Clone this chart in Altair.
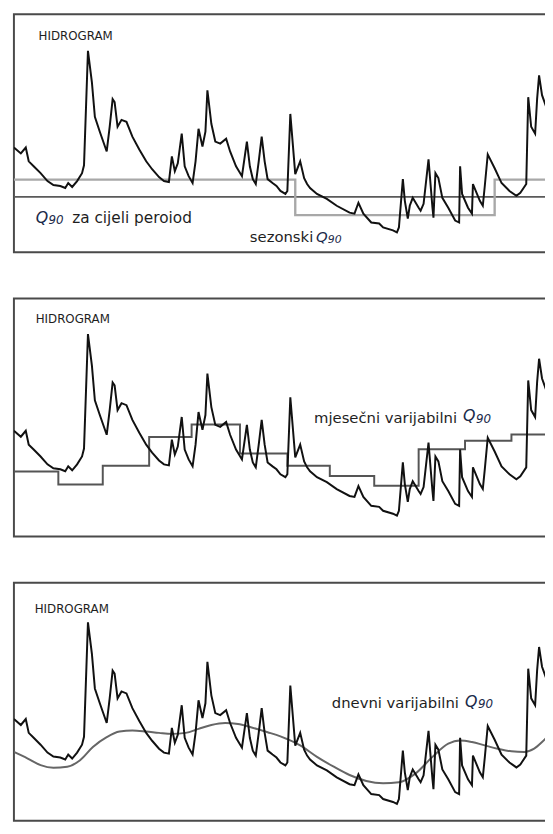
import altair as alt
import pandas as pd

days = [0, 7, 12, 15, 20, 27, 34, 40, 47, 52, 55, 59, 64, 69, 71, 75, 79, 82, 87, 94,
        97, 100, 102, 105, 109, 114, 120, 127, 134, 140, 147, 152, 157, 160, 163, 166, 170, 173, 177, 181,
        184, 187, 191, 194, 196, 200, 204, 209, 215, 219, 225, 231, 236, 239, 242, 245, 248, 251, 254, 257,
        262, 266, 270, 275, 277, 280, 285, 290, 294, 297, 300, 307, 317, 327, 340, 345, 349, 354, 362, 370,
        374, 384, 388, 390, 394, 396, 399, 401, 404, 410, 412, 415, 420, 424, 425, 427, 430, 434, 440, 447,
        451, 452, 454, 460, 464, 465, 472, 475, 477, 480, 487, 494, 502, 509, 513, 519, 521, 524, 528, 530,
        532, 535, 540]
flow = [106, 100, 106, 92, 87, 80, 72, 68, 67, 65, 70, 66, 72, 80, 88, 204, 172, 137, 122, 102,
        127, 155, 152, 127, 134, 132, 117, 104, 92, 84, 76, 72, 71, 97, 82, 90, 120, 87, 77, 70,
        92, 125, 107, 122, 164, 130, 112, 110, 115, 102, 87, 77, 112, 87, 74, 69, 92, 117, 92, 74,
        70, 67, 62, 59, 62, 140, 79, 92, 75, 69, 65, 59, 54, 47, 40, 39, 50, 39, 30, 29,
        25, 22, 20, 25, 74, 52, 34, 47, 55, 45, 42, 49, 94, 45, 35, 80, 75, 55, 45, 32,
        30, 87, 59, 45, 39, 69, 52, 47, 67, 99, 85, 70, 62, 57, 60, 69, 157, 127, 120, 155,
        179, 159, 145]
assert len(days) == len(flow)

q90_all = 56
season_days = [0, 285, 487, 540]
season_q = [73.5, 37.5, 73.5, 73.5]
month_days = [0, 45, 90, 137, 180, 229, 277, 320, 365, 410, 457, 504, 540]
month_q = [64.7, 51.7, 70.7, 99.7, 112.3, 83, 70.5, 60.2, 50.3, 87.3, 96, 102.3, 102.3]
daily_days = [0, 14, 27, 40, 54, 67, 80, 94, 107, 120, 134, 147, 160, 174, 187, 200, 214, 227, 240,
              257, 270, 290, 307, 324, 340, 357, 374, 390, 407, 424, 440, 452, 464, 477, 490, 504, 517,
              527, 535, 540]
daily_q = [72.7, 66, 59.3, 56.7, 57.7, 64.3, 77.7, 87.7, 93.3, 94.3, 93.3, 92, 91, 92, 96, 100, 102,
           101, 97.7, 92.7, 88.5, 79.3, 67.7, 57.7, 49.3, 43.3, 41, 42, 51, 67.7, 81, 84.3, 82.7, 79.3,
           76, 73.3, 72.7, 76, 82.7, 87.7]

hydro = pd.DataFrame({"d": days, "q": flow})
season = pd.DataFrame({"d": season_days, "q": season_q})
month = pd.DataFrame({"d": month_days, "q": month_q})
daily = pd.DataFrame({"d": daily_days, "q": daily_q})
whole = pd.DataFrame({"d": [0, 540], "q": [q90_all, q90_all]})

W, H = 541, 241
FONT = "DejaVu Sans"
TXT = "#1e1e1e"
QCOL = "#1b2a4a"


def panel(ymin, refs, texts):
    xsc = alt.Scale(domain=[0, 541], nice=False, zero=False)
    ysc = alt.Scale(domain=[ymin, ymin + H], nice=False, zero=False)
    base = alt.Chart(hydro).mark_line(color="#111111", strokeWidth=2, clip=True).encode(
        x=alt.X("d:Q", scale=xsc, axis=None),
        y=alt.Y("q:Q", scale=ysc, axis=None),
    )
    layers = []
    for df, color, sw, interp in refs:
        layers.append(
            alt.Chart(df).mark_line(color=color, strokeWidth=sw, interpolate=interp, clip=True).encode(
                x=alt.X("d:Q", scale=xsc, axis=None),
                y=alt.Y("q:Q", scale=ysc, axis=None),
            )
        )
    for label, xd, yd, size, style, color in texts:
        layers.append(
            alt.Chart(pd.DataFrame({"t": [label]})).mark_text(
                font=FONT, fontSize=size, fontStyle=style, color=color,
                align="left", baseline="alphabetic"
            ).encode(
                x=alt.XDatum(xd, type="quantitative", scale=xsc, axis=None),
                y=alt.YDatum(yd, type="quantitative", scale=ysc, axis=None),
                text="t:N",
            )
        )
    return alt.layer(*layers[:len(refs)], base, *layers[len(refs):]).properties(width=W, height=H)


p1 = panel(
    0,
    [(whole, "#5a5a5a", 1.6, "linear"), (season, "#a8a8a8", 2.4, "step-after")],
    [
        ("HIDROGRAM", 25, 215, 12, "normal", TXT),
        ("Q", 22, 30, 16, "italic", QCOL),
        ("90", 35, 29, 12, "italic", QCOL),
        ("za cijeli peroiod", 59, 30, 15.5, "normal", TXT),
        ("sezonski", 239, 10, 15, "normal", TXT),
        ("Q", 306, 10, 15, "italic", QCOL),
        ("90", 318, 9, 11, "italic", QCOL),
    ],
)

p2 = panel(
    -1,
    [(month, "#555555", 2.0, "step-after")],
    [
        ("HIDROGRAM", 22, 215, 12, "normal", TXT),
        ("mjesečni varijabilni", 304, 114, 15, "normal", TXT),
        ("Q", 455, 116, 16, "italic", QCOL),
        ("90", 468, 114, 12, "italic", QCOL),
    ],
)

p3 = panel(
    3,
    [(daily, "#666666", 2.0, "monotone")],
    [
        ("HIDROGRAM", 21, 213, 12, "normal", TXT),
        ("dnevni varijabilni", 322, 117, 15, "normal", TXT),
        ("Q", 457, 118, 16, "italic", QCOL),
        ("90", 470, 117, 12, "italic", QCOL),
    ],
)

chart = alt.vconcat(p1, p2, p3, spacing=45).properties(
    padding={"left": 5, "top": 0, "right": -4, "bottom": -2},
    background="white",
).configure_view(stroke="#4a4a4a", strokeWidth=2)

chart.save("out.html", embed_options={"renderer": "svg", "actions": False})
